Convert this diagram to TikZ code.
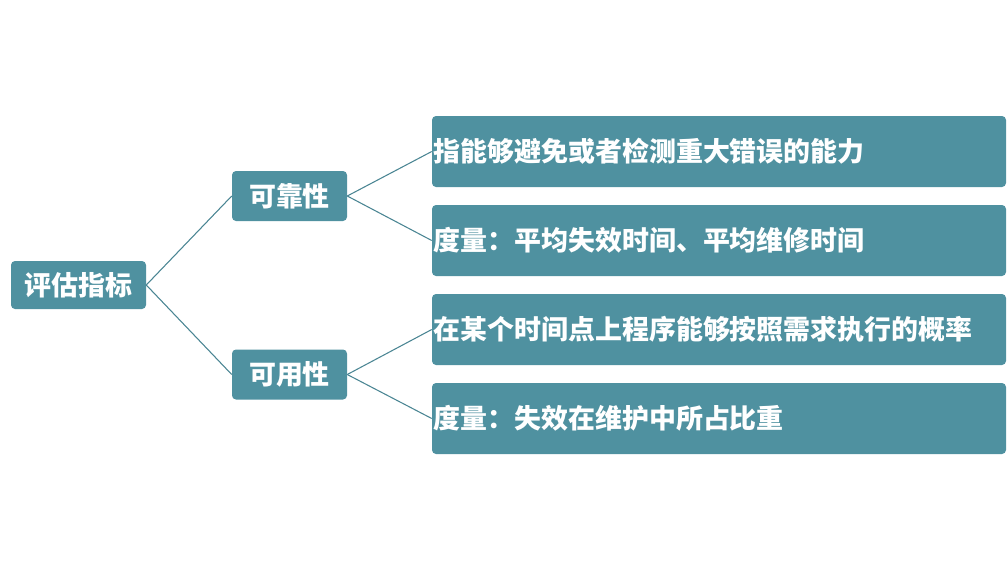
\documentclass[tikz,border=0pt]{standalone}
\usepackage{fontspec}
\setmainfont{Noto Sans CJK SC}
\usepackage{tikz}
\usetikzlibrary{positioning}
\definecolor{evteal}{HTML}{4F91A0}
\definecolor{evline}{HTML}{4A8593}

\begin{document}
\begin{tikzpicture}[x=0.75pt, y=-0.75pt, font=\fontsize{20.2}{24}\selectfont\bfseries,
          box/.style={fill=evteal, rounded corners=3pt, text=white, inner sep=0pt, align=center},
          leaf/.style={box, minimum width=430.5pt, minimum height=53.25pt, text width=428pt, align=left},
          link/.style={draw=evline, line width=0.8pt}]
  \useasboundingbox (0,0) rectangle (1008,569);
  \node[box, minimum width=101.25pt, minimum height=36pt] (root) at (78.5,285) {评估指标};
  \node[box, minimum width=86.25pt, minimum height=37.5pt] (rel) at (289.5,196) {可靠性};
  \node[box, minimum width=86.25pt, minimum height=37.5pt] (avl) at (289.5,374.5) {可用性};
  \node[leaf] (r1) at (719,151.5) {指能够避免或者检测重大错误的能力};
  \node[leaf] (r2) at (719,240.5) {度量：平均失效时间、平均维修时间};
  \node[leaf] (a1) at (719,329.5) {在某个时间点上程序能够按照需求执行的概率};
  \node[leaf] (a2) at (719,418.5) {度量：失效在维护中所占比重};
  \draw[link] (root.east)--(rel.west);
  \draw[link] (root.east)--(avl.west);
  \draw[link] (rel.east)--(r1.west);
  \draw[link] (rel.east)--(r2.west);
  \draw[link] (avl.east)--(a1.west);
  \draw[link] (avl.east)--(a2.west);
\end{tikzpicture}
\end{document}
